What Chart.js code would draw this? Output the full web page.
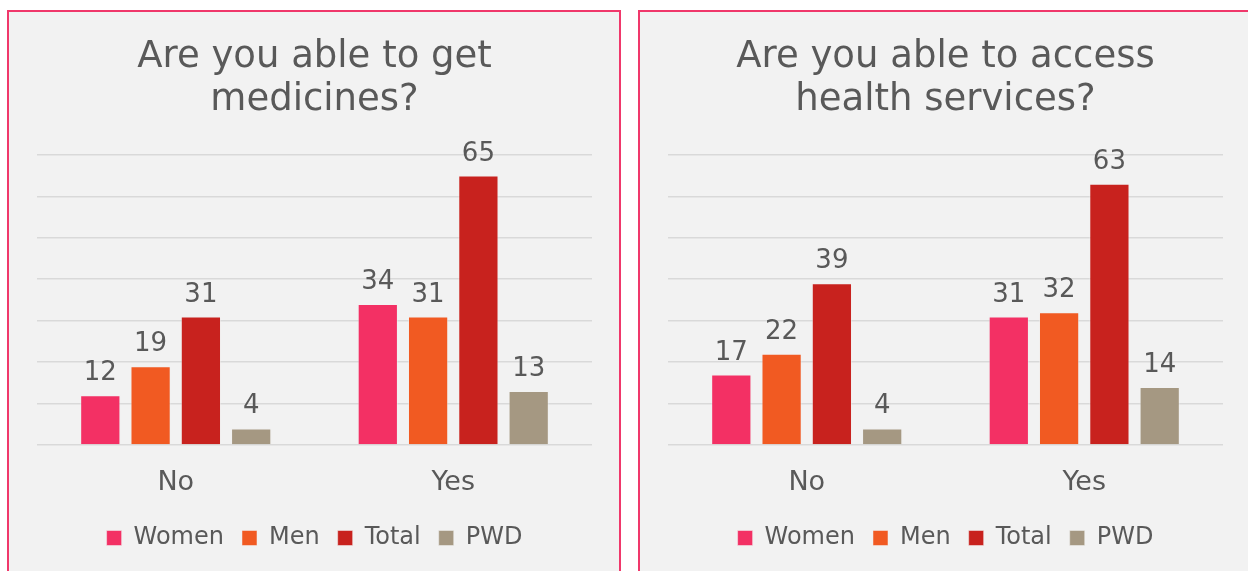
<!DOCTYPE html>
<html>
<head>
<meta charset="utf-8">
<script src="https://cdn.jsdelivr.net/npm/chart.js@4/dist/chart.umd.min.js"></script>
<style>
  html, body { margin: 0; padding: 0; background: #fff; overflow: hidden; width: 1248px; height: 571px; }
  .panel { position: absolute; top: 10px; width: 610px; height: 580px; border: 2px solid #f0386b; background: #f2f2f2; }
  #p1 { left: 7px; }
  #p2 { left: 638px; }
  canvas { display: block; }
</style>
</head>
<body>
<div class="panel" id="p1"><canvas id="c1" width="610" height="559"></canvas></div>
<div class="panel" id="p2"><canvas id="c2" width="610" height="559"></canvas></div>
<script>
// categories and series
var categories = ['No', 'Yes'];
var seriesNames = ['Women', 'Men', 'Total', 'PWD'];
var seriesColors = ['#f33064', '#f15a22', '#c8221e', '#a59882'];

// Are you able to get medicines?
var medWomen = [12, 34];
var medMen = [19, 31];
var medTotal = [31, 65];
var medPwd = [4, 13];

// Are you able to access health services?
var hsWomen = [17, 31];
var hsMen = [22, 32];
var hsTotal = [39, 63];
var hsPwd = [4, 14];

var yMax = 70;
var yStep = 10;

var txt = '#595959';
var fontFam = "'DejaVu Sans', Verdana, sans-serif";

// value labels above the bars
var barLabels = {
  id: 'barLabels',
  afterDatasetsDraw: function (chart) {
    var ctx = chart.ctx;
    ctx.save();
    ctx.font = '26px ' + fontFam;
    ctx.fillStyle = txt;
    ctx.textAlign = 'center';
    ctx.textBaseline = 'alphabetic';
    chart.data.datasets.forEach(function (ds, i) {
      chart.getDatasetMeta(i).data.forEach(function (bar, j) {
        ctx.fillText(ds.data[j], bar.x, bar.y - 15);
      });
    });
    ctx.restore();
  }
};

function makeChart(id, title, values) {
  return new Chart(document.getElementById(id).getContext('2d'), {
    type: 'bar',
    data: {
      labels: categories,
      datasets: seriesNames.map(function (name, i) {
        return {
          label: name,
          data: values[i],
          backgroundColor: seriesColors[i],
          borderColor: 'rgba(242,242,242,0.5)',
          borderWidth: 1,
          categoryPercentage: 0.725,
          barPercentage: 0.8
        };
      })
    },
    options: {
      responsive: false,
      animation: false,
      layout: { padding: { left: 28, right: 27, top: 0, bottom: 11 } },
      plugins: {
        title: {
          display: true,
          text: title,
          color: txt,
          font: { family: fontFam, size: 37, weight: 'normal', lineHeight: 1.16 },
          padding: { top: 24, bottom: 33 }
        },
        legend: {
          position: 'bottom',
          labels: {
            color: txt,
            font: { family: fontFam, size: 24 },
            boxWidth: 15,
            boxHeight: 15,
            padding: 18
          }
        },
        tooltip: { enabled: false }
      },
      scales: {
        x: {
          grid: { display: false },
          border: { display: false },
          ticks: { color: txt, font: { family: fontFam, size: 27 }, padding: 14 },
          afterFit: function (scale) { scale.height = 63; }
        },
        y: {
          min: 0,
          max: yMax,
          ticks: { display: false, stepSize: yStep },
          grid: { color: '#d9d9d9', lineWidth: 1.5, drawTicks: false },
          border: { display: false }
        }
      }
    },
    plugins: [barLabels]
  });
}

makeChart('c1', ['Are you able to get', 'medicines?'], [medWomen, medMen, medTotal, medPwd]);
makeChart('c2', ['Are you able to access', 'health services?'], [hsWomen, hsMen, hsTotal, hsPwd]);
</script>
</body>
</html>
